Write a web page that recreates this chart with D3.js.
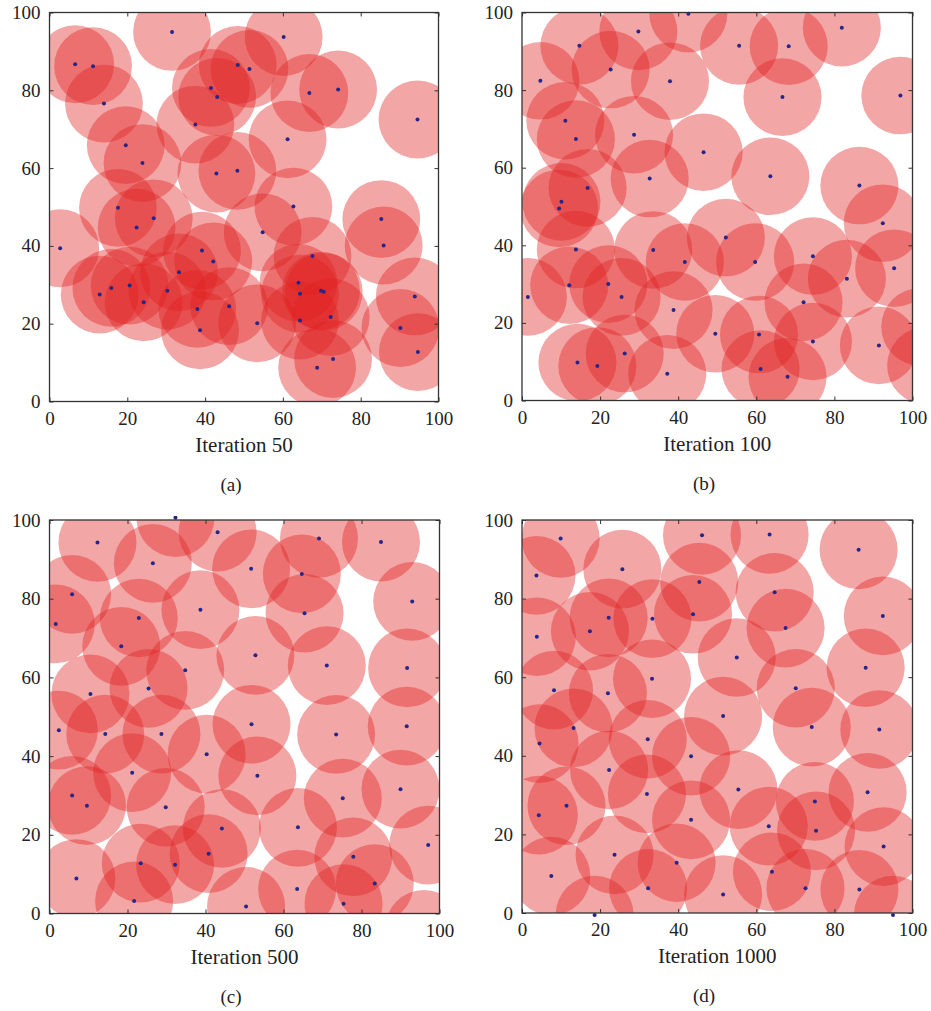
<!DOCTYPE html>
<html>
<head>
<meta charset="utf-8">
<script src="https://cdn.jsdelivr.net/npm/d3@7"></script>
<style>
  html, body { margin: 0; padding: 0; background: #fff; }
  svg text { font-family: "Liberation Serif", "DejaVu Serif", serif; fill: #222; }
</style>
</head>
<body>
<script>
// ---------- data ----------
const tickValues = [0, 20, 40, 60, 80, 100];
const sensorRadius = 10;

const iterLabels = ["Iteration 50", "Iteration 100", "Iteration 500", "Iteration 1000"];
const captions = ["(a)", "(b)", "(c)", "(d)"];

// Iteration 50
const aX = [6.6,11.2,14.0,31.5,48.4,51.4,41.5,43.1,60.2,66.8,74.2,94.6,37.5,61.2,19.6,23.9,42.9,48.3,17.6,62.7,22.4,26.8,2.75,54.8,85.3,85.9,39.2,42.1,33.3,67.6,12.9,15.9,20.6,24.2,30.3,38.0,38.7,46.2,53.4,64.0,64.4,69.8,70.5,64.4,72.3,72.9,68.8,93.9,90.2,94.7];
const aY = [86.7,86.2,76.6,95.0,86.5,85.5,80.6,78.3,93.7,79.3,80.2,72.5,71.2,67.4,65.9,61.3,58.6,59.3,49.8,50.1,44.7,47.1,39.4,43.5,46.9,40.1,38.8,36.0,33.2,37.4,27.5,29.2,29.8,25.5,28.5,23.8,18.3,24.5,20.1,30.5,27.7,28.5,28.2,20.8,21.7,10.9,8.7,27.0,18.9,12.7];

// Iteration 100
const bX = [42.6,29.8,14.7,55.6,68.3,81.9,4.7,22.7,37.9,66.7,96.9,11.1,13.8,28.7,46.5,63.6,32.7,16.8,86.4,10.1,9.5,92.4,13.8,33.6,41.7,52.2,59.7,74.5,95.3,83.2,1.5,12.1,22.1,25.5,38.8,72.1,49.5,60.7,74.5,91.4,26.3,14.2,19.3,37.2,61.1,68.0,102.0,103.5];
const bY = [99.7,95.1,91.4,91.4,91.3,96.1,82.4,85.3,82.3,78.2,78.6,72.1,67.4,68.5,64.0,57.8,57.2,54.8,55.4,51.2,49.5,45.7,38.9,38.8,35.7,42.0,35.7,37.2,34.1,31.4,26.7,29.7,30.0,26.7,23.3,25.3,17.2,17.0,15.2,14.2,12.1,9.8,8.9,6.9,8.1,6.1,19.0,9.0];

// Iteration 500
const cX = [32.3,12.3,43.1,69.1,85.0,26.5,51.7,64.7,5.8,93.0,1.6,22.9,38.7,65.4,18.4,52.8,71.1,91.7,34.8,10.5,25.4,2.4,14.3,28.7,51.8,73.5,91.6,40.3,21.2,53.3,75.2,90.0,5.8,9.6,29.8,44.2,63.7,97.1,40.8,23.4,32.2,77.9,83.4,6.9,21.7,50.4,63.5,75.4,96.0];
const cY = [100.6,94.3,96.9,95.3,94.4,89.0,87.6,86.3,81.1,79.3,73.6,75.1,77.2,76.3,67.9,65.6,63.0,62.4,61.8,55.8,57.2,46.6,45.6,45.6,48.1,45.5,47.6,40.5,35.8,35.0,29.3,31.6,30.0,27.4,27.0,21.6,21.9,17.4,15.2,12.8,12.4,14.4,7.6,8.9,3.2,1.8,6.2,2.5,-4.0];

// Iteration 1000
const dX = [9.9,46.1,63.4,86.2,3.7,25.7,45.4,64.7,92.4,22.2,33.4,43.8,67.5,3.8,17.4,55.0,88.0,33.3,8.2,22.0,70.1,51.5,13.2,4.5,32.2,74.2,91.5,43.3,22.3,32.0,55.4,88.5,11.4,4.3,75.0,43.3,63.2,75.3,92.6,23.7,39.6,7.5,64.0,32.3,51.5,72.6,86.4,18.6,95.0];
const dY = [95.3,96.1,96.3,92.4,85.9,87.5,84.2,81.6,75.6,75.1,74.9,76.0,72.5,70.3,71.7,65.0,62.4,59.6,56.7,55.9,57.2,50.1,47.1,43.1,44.2,47.3,46.7,39.9,36.4,30.3,31.4,30.7,27.3,24.9,28.4,23.7,22.1,20.9,16.9,14.8,12.8,9.4,10.5,6.3,4.7,6.3,6.0,-0.5,-0.5];

// ---------- layout ----------
const layout = [
  {L: 49.5, R: 438.5, T: 12.5, B: 401.5, capX: 231},
  {L: 522,  R: 912.5, T: 12.5, B: 400.5, capX: 704},
  {L: 49.5, R: 439.5, T: 520,  B: 913.5, capX: 231},
  {L: 522,  R: 912.5, T: 520,  B: 913,   capX: 704}
];
const seriesX = [aX, bX, cX, dX];
const seriesY = [aY, bY, cY, dY];

const svg = d3.select("body").append("svg")
  .attr("width", 931).attr("height", 1011);
const defs = svg.append("defs");

layout.forEach((p, i) => {
  const x = d3.scaleLinear().domain([0, 100]).range([p.L, p.R]);
  const y = d3.scaleLinear().domain([0, 100]).range([p.B, p.T]);
  const pts = seriesX[i].map((v, k) => ({x: v, y: seriesY[i][k]}));

  defs.append("clipPath").attr("id", "clip" + i)
    .append("rect").attr("x", p.L).attr("y", p.T)
    .attr("width", p.R - p.L).attr("height", p.B - p.T);
  defs.append("clipPath").attr("id", "clipd" + i)
    .append("rect").attr("x", p.L - 4).attr("y", p.T - 4)
    .attr("width", p.R - p.L + 8).attr("height", p.B - p.T + 8);

  const g = svg.append("g");
  const rx = x(sensorRadius) - x(0);
  const ry = y(0) - y(sensorRadius);

  g.append("g").attr("clip-path", `url(#clip${i})`)
    .selectAll("ellipse").data(pts).join("ellipse")
    .attr("cx", d => x(d.x)).attr("cy", d => y(d.y))
    .attr("rx", rx).attr("ry", ry)
    .attr("fill", "#E02020").attr("fill-opacity", 0.4);

  g.append("g").attr("clip-path", `url(#clipd${i})`)
    .selectAll("circle").data(pts).join("circle")
    .attr("cx", d => x(d.x)).attr("cy", d => y(d.y))
    .attr("r", 2).attr("fill", "#26268a");

  // axes
  const axB = g.append("g").attr("transform", `translate(0,${p.B})`)
    .call(d3.axisBottom(x).tickValues(tickValues).tickSizeInner(-4).tickSizeOuter(0).tickPadding(10));
  const axL = g.append("g").attr("transform", `translate(${p.L},0)`)
    .call(d3.axisLeft(y).tickValues(tickValues).tickSizeInner(-4).tickSizeOuter(0).tickPadding(9));
  const axT = g.append("g").attr("transform", `translate(0,${p.T})`)
    .call(d3.axisTop(x).tickValues(tickValues).tickSizeInner(-4).tickSizeOuter(0).tickFormat(""));
  const axR = g.append("g").attr("transform", `translate(${p.R},0)`)
    .call(d3.axisRight(y).tickValues(tickValues).tickSizeInner(-4).tickSizeOuter(0).tickFormat(""));
  [axB, axL, axT, axR].forEach(a => {
    a.select(".domain").remove();
    a.selectAll(".tick line").attr("stroke", "#333").attr("stroke-width", 1);
    a.selectAll("text").style("font-size", "19px").style("font-family", "'Liberation Serif', serif").attr("fill", "#222");
  });

  g.append("rect").attr("x", p.L).attr("y", p.T)
    .attr("width", p.R - p.L).attr("height", p.B - p.T)
    .attr("fill", "none").attr("stroke", "#333").attr("stroke-width", 1.3);

  g.append("text").attr("x", (p.L + p.R) / 2).attr("y", p.B + 50)
    .attr("text-anchor", "middle").style("font-size", "21px")
    .text(iterLabels[i]);
  g.append("text").attr("x", p.capX).attr("y", p.B + 89)
    .attr("text-anchor", "middle").style("font-size", "19px")
    .text(captions[i]);
});
</script>
</body>
</html>
